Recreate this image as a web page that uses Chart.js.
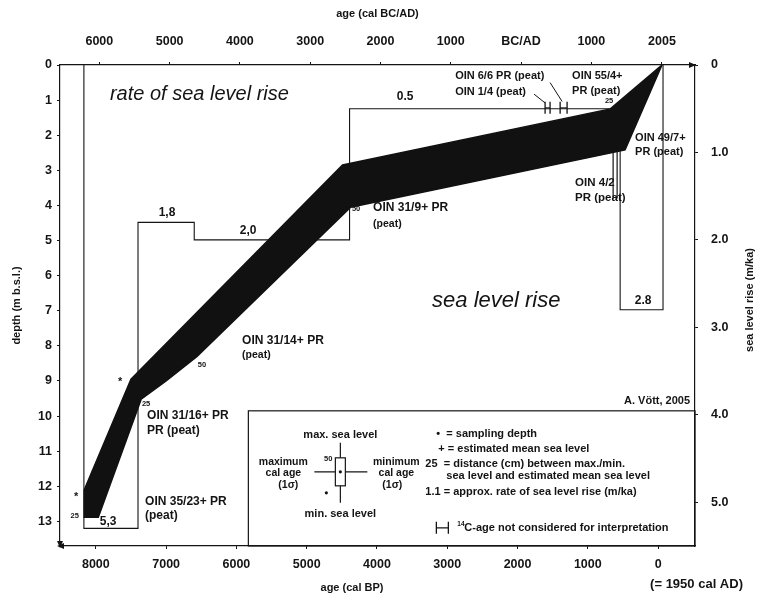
<!DOCTYPE html>
<html><head><meta charset="utf-8">
<script src="https://cdn.jsdelivr.net/npm/chart.js@4/dist/chart.umd.min.js"></script>
<style>html,body{margin:0;padding:0;background:#fff}#wrap{width:760px;height:596px;position:relative}</style>
</head><body><div id="wrap"><canvas id="c" width="760" height="596"></canvas></div>
<script>
// ---------------- data ----------------
// sea level band: upper (shallow) edge and lower (deep) edge, age in cal BP, depth in m b.s.l.
const bandUpperAgeBP = [-55, 680, 4490, 7500, 8165];
const bandUpperDepth = [0, 1.25, 2.85, 8.95, 12.1];
const bandLowerAgeBP = [8165, 7965, 7355, 7000, 6560, 4375, 470, -55];
const bandLowerDepth = [12.88, 12.88, 9.52, 9.0, 8.3, 4.05, 2.42, 0];
// rate of sea level rise (m/ka), stepped between age breaks (cal BP)
const rateBreaksBP = [8170, 7400, 6600, 4390, 540, -70];
const rateValues = [5.3, 1.8, 2.0, 0.5, 2.8];
const rateValueLabels = ['5,3', '1,8', '2,0', '0.5', '2.8'];
// OIN 4/2 depth ranges (two lines)
const oin42AgeBP = [640, 583];
const oin42Depth = [2.42, 3.8];
// 14C ages not considered (OIN 1/4, OIN 6/6): age ranges at depth
const c14AgeFromBP = [1608, 1394];
const c14AgeToBP = [1537, 1295];
const c14Depth = [1.22, 1.22];
// axis ticks
const bpTicks = [8000, 7000, 6000, 5000, 4000, 3000, 2000, 1000, 0];
const bcadTicks = [-6000, -5000, -4000, -3000, -2000, -1000, 0, 1000, 2005];
const bcadTickLabels = ['6000', '5000', '4000', '3000', '2000', '1000', 'BC/AD', '1000', '2005'];
const depthTicks = [0, 1, 2, 3, 4, 5, 6, 7, 8, 9, 10, 11, 12, 13];
const rateTicks = [0, 1, 2, 3, 4, 5];
const rateTickLabels = ['0', '1.0', '2.0', '3.0', '4.0', '5.0'];

// ---------------- scale ranges ----------------
const BP_MIN = -525, BP_MAX = 8510;
const DEPTH_MAX = 13.7;
const RATE_MAX = DEPTH_MAX / 2.49;

const FONT = '"Liberation Sans", Arial, sans-serif';
const INK = '#141414';

// build datasets from arrays
const bandPoly = bandUpperAgeBP.map((a, i) => ({x: a, y: bandUpperDepth[i]}))
  .concat(bandLowerAgeBP.map((a, i) => ({x: a, y: bandLowerDepth[i]})));
bandPoly.push({x: bandUpperAgeBP[0], y: bandUpperDepth[0]});

const ratePts = [{x: rateBreaksBP[0], y: 0}];
rateValues.forEach((r, i) => {
  ratePts.push({x: rateBreaksBP[i], y: r});
  ratePts.push({x: rateBreaksBP[i + 1], y: r});
});
ratePts.push({x: rateBreaksBP[rateBreaksBP.length - 1], y: 0});

const lineDs = (data, extra) => Object.assign({
  type: 'line', data, showLine: true, borderColor: INK, borderWidth: 1.1,
  pointRadius: 0, tension: 0, fill: false, xAxisID: 'x', yAxisID: 'y'
}, extra || {});

const datasets = [
  lineDs(bandPoly, {backgroundColor: '#111', borderColor: '#111', borderWidth: 1.5, fill: 'shape'}),
  lineDs(ratePts, {yAxisID: 'rate'}),
];
oin42AgeBP.forEach(a => datasets.push(lineDs(oin42Depth.map(d => ({x: a, y: d})), {borderWidth: 1.2})));
c14AgeFromBP.forEach((a, i) => {
  const b = c14AgeToBP[i], d = c14Depth[i];
  datasets.push(lineDs([{x: a, y: d}, {x: b, y: d}], {borderWidth: 1}));
  datasets.push(lineDs([{x: a, y: d - 0.17}, {x: a, y: d + 0.17}], {borderWidth: 1.3}));
  datasets.push(lineDs([{x: b, y: d - 0.17}, {x: b, y: d + 0.17}], {borderWidth: 1.3}));
});
// pointer lines from labels OIN 1/4 and OIN 6/6
datasets.push(lineDs([{x: 1765, y: 0.83}, {x: 1608, y: 1.08}], {borderWidth: 1}));
datasets.push(lineDs([{x: 1537, y: 0.5}, {x: 1366, y: 1.04}], {borderWidth: 1}));

// ---------------- text annotations (data coordinates) ----------------
const notes = [
  {t: 'rate of sea level rise', x: 7800, y: 0.85, size: 20, style: 'italic', weight: 'normal'},
  {t: 'sea level rise', x: 3216, y: 6.72, size: 22, style: 'italic', weight: 'normal'},
  {t: 'OIN 31/16+ PR', x: 7271, y: 10.0}, {t: 'PR (peat)', x: 7271, y: 10.42},
  {t: 'OIN 35/23+ PR', x: 7300, y: 12.43}, {t: '(peat)', x: 7300, y: 12.85},
  {t: 'OIN 31/14+ PR', x: 5919, y: 7.85}, {t: '(peat)', x: 5919, y: 8.25, size: 10.5},
  {t: 'OIN 31/9+ PR', x: 4055, y: 4.07}, {t: '(peat)', x: 4055, y: 4.53, size: 10.5},
  {t: 'OIN 6/6 PR (peat)', x: 2888, y: 0.31, size: 11}, {t: 'OIN 1/4 (peat)', x: 2888, y: 0.77, size: 11},
  {t: 'OIN 55/4+', x: 1224, y: 0.31, size: 11}, {t: 'PR (peat)', x: 1224, y: 0.74, size: 11},
  {t: 'OIN 49/7+', x: 327, y: 2.08, size: 11}, {t: 'PR (peat)', x: 327, y: 2.48, size: 11},
  {t: 'OIN 4/2', x: 1181, y: 3.37, size: 11.5}, {t: 'PR (peat)', x: 1181, y: 3.77, size: 11.5},
  {t: 'A. Vött, 2005', x: -455, y: 9.57, size: 11, align: 'right'},
  {t: '25', x: 8300, y: 12.85, size: 7.5, align: 'center'},
  {t: '*', x: 8282, y: 12.3, size: 11, align: 'center'},
  {t: '*', x: 7655, y: 9.03, size: 11, align: 'center'},
  {t: '25', x: 7285, y: 9.65, size: 7.5, align: 'center'},
  {t: '50', x: 6489, y: 8.55, size: 7.5, align: 'center'},
  {t: '50', x: 4297, y: 4.1, size: 7.5, align: 'center'},
  {t: '25', x: 697, y: 1.02, size: 7.5, align: 'center'},
];
// labels of rate segments: placed above each step, mid-segment (rate axis)
const rateNoteAt = [
  {x: 7826, y: 5.22}, {x: 6987, y: 1.69}, {x: 5834, y: 1.89}, {x: 3600, y: 0.36}, {x: 214, y: 2.7}
];

function drawText(ctx, t, px, py, o) {
  ctx.save();
  ctx.font = `${o.style || 'normal'} ${o.weight || 'bold'} ${o.size || 12}px ${FONT}`;
  ctx.fillStyle = INK;
  ctx.textAlign = o.align || 'left';
  ctx.textBaseline = 'middle';
  ctx.fillText(t, px, py);
  ctx.restore();
}

const overlay = {
  id: 'overlay',
  afterDatasetsDraw(chart) {
    const ctx = chart.ctx, xs = chart.scales.x, ys = chart.scales.y, rs = chart.scales.rate;
    const ca = chart.chartArea;
    notes.forEach(n => drawText(ctx, n.t, xs.getPixelForValue(n.x), ys.getPixelForValue(n.y), n));
    rateNoteAt.forEach((p, i) => drawText(ctx, rateValueLabels[i], xs.getPixelForValue(p.x), rs.getPixelForValue(p.y), {size: 12, align: 'center'}));

    // arrowheads on axes
    ctx.save();
    ctx.fillStyle = INK;
    ctx.beginPath();
    ctx.moveTo(ca.right + 1, ca.top); ctx.lineTo(ca.right - 6, ca.top - 3); ctx.lineTo(ca.right - 6, ca.top + 3); ctx.closePath(); ctx.fill();
    ctx.beginPath();
    ctx.moveTo(ca.left - 3, ca.bottom); ctx.lineTo(ca.left + 4, ca.bottom - 3); ctx.lineTo(ca.left + 4, ca.bottom + 3); ctx.closePath(); ctx.fill();
    ctx.beginPath();
    ctx.moveTo(ca.left, ca.bottom + 2); ctx.lineTo(ca.left - 3, ca.bottom - 5); ctx.lineTo(ca.left + 3, ca.bottom - 5); ctx.closePath(); ctx.fill();
    ctx.restore();

    // legend box
    const L = xs.getPixelForValue(5830), T = ys.getPixelForValue(9.85);
    ctx.save();
    ctx.strokeStyle = INK; ctx.lineWidth = 1.2;
    ctx.strokeRect(L, T, ca.right - L, ca.bottom - T);
    const cx = L + 92;
    ctx.lineWidth = 1.2;
    ctx.beginPath();
    ctx.moveTo(cx, T + 32); ctx.lineTo(cx, T + 47);
    ctx.moveTo(cx, T + 75); ctx.lineTo(cx, T + 92);
    ctx.moveTo(L + 66, T + 61); ctx.lineTo(cx - 5, T + 61);
    ctx.moveTo(cx + 5, T + 61); ctx.lineTo(L + 119, T + 61);
    ctx.stroke();
    ctx.strokeRect(cx - 5, T + 47, 10, 28);
    ctx.fillStyle = INK;
    ctx.beginPath(); ctx.arc(cx, T + 61, 1.6, 0, Math.PI * 2); ctx.fill();
    ctx.beginPath(); ctx.arc(cx - 14, T + 82, 1.6, 0, Math.PI * 2); ctx.fill();
    ctx.restore();
    const lt = (t, dx, dy, o) => drawText(ctx, t, L + dx, T + dy, Object.assign({size: 11}, o || {}));
    lt('max. sea level', 92, 24, {align: 'center'});
    lt('min. sea level', 92, 103, {align: 'center'});
    lt('50', 84, 48, {align: 'right', size: 7.5});
    lt('maximum', 35, 51, {align: 'center', size: 10.5});
    lt('cal age', 35, 62, {align: 'center', size: 10.5});
    lt('(1σ)', 40, 74, {align: 'center', size: 10.5});
    lt('minimum', 148, 51, {align: 'center', size: 10.5});
    lt('cal age', 148, 62, {align: 'center', size: 10.5});
    lt('(1σ)', 144, 74, {align: 'center', size: 10.5});
    lt('•  = sampling depth', 188, 23);
    lt('+ = estimated mean sea level', 190, 38);
    lt('25  = distance (cm) between max./min.', 177, 53);
    lt('sea level and estimated mean sea level', 198, 65);
    lt('1.1 = approx. rate of sea level rise (m/ka)', 177, 81);
    // 14C symbol
    ctx.save();
    ctx.strokeStyle = INK; ctx.lineWidth = 1.3;
    ctx.beginPath();
    const sy = T + 117;
    ctx.moveTo(L + 188, sy - 6); ctx.lineTo(L + 188, sy + 6);
    ctx.moveTo(L + 200, sy - 6); ctx.lineTo(L + 200, sy + 6);
    ctx.moveTo(L + 188, sy); ctx.lineTo(L + 200, sy);
    ctx.stroke();
    ctx.restore();
    lt('14', 209, 113, {size: 6.5});
    lt('C-age not considered for interpretation', 216, 117);

    // extra axis texts
    drawText(ctx, '(= 1950 cal AD)', xs.getPixelForValue(0) - 8, 584, {size: 13, weight: 'bold'});
    drawText(ctx, 'age (cal BP)', 352, 588, {size: 11, align: 'center'});
    ctx.save();
    ctx.translate(750, 300);
    ctx.rotate(-Math.PI / 2);
    drawText(ctx, 'sea level rise (m/ka)', 0, 0, {size: 11, align: 'center'});
    ctx.restore();
  }
};

const tickFont = {family: FONT, size: 12.5, weight: 'bold'};
const titleFont = {family: FONT, size: 11, weight: 'bold'};
const axisBase = {
  grid: {drawOnChartArea: false, drawTicks: true, tickLength: 3, color: INK, lineWidth: 1},
  border: {display: true, color: INK, width: 1.2},
};

new Chart(document.getElementById('c'), {
  type: 'scatter',
  data: {datasets},
  plugins: [overlay],
  options: {
    responsive: false, animation: false, devicePixelRatio: 1,
    layout: {padding: 0},
    plugins: {legend: {display: false}, tooltip: {enabled: false}},
    scales: {
      x: Object.assign({}, axisBase, {
        type: 'linear', position: 'bottom', reverse: true, min: BP_MIN, max: BP_MAX,
        afterBuildTicks: s => { s.ticks = bpTicks.map(v => ({value: v})); },
        afterFit: s => { s.height = 50; },
        ticks: {font: tickFont, color: INK, padding: 8, maxRotation: 0, autoSkip: false,
          callback: v => String(v)},
        title: {display: false}
      }),
      top: Object.assign({}, axisBase, {
        type: 'linear', position: 'top', min: 1950 - BP_MAX, max: 1950 - BP_MIN,
        afterBuildTicks: s => { s.ticks = bcadTicks.map(v => ({value: v})); },
        afterFit: s => { s.height = 65; },
        ticks: {font: tickFont, color: INK, padding: 13, maxRotation: 0, autoSkip: false,
          callback: (v) => { const i = bcadTicks.indexOf(v); return i >= 0 ? bcadTickLabels[i] : ''; }},
        title: {display: true, text: 'age (cal BC/AD)', font: titleFont, color: INK, padding: {top: 7, bottom: 0}}
      }),
      y: Object.assign({}, axisBase, {
        type: 'linear', position: 'left', reverse: true, min: 0, max: DEPTH_MAX,
        afterBuildTicks: s => { s.ticks = depthTicks.map(v => ({value: v})); },
        afterFit: s => { s.width = 60; },
        ticks: {font: tickFont, color: INK, padding: 5, autoSkip: false, callback: v => String(v)},
        title: {display: true, text: 'depth (m b.s.l.)', font: titleFont, color: INK, padding: {top: 10, bottom: 0}}
      }),
      rate: Object.assign({}, axisBase, {
        type: 'linear', position: 'right', reverse: true, min: 0, max: RATE_MAX,
        afterBuildTicks: s => { s.ticks = rateTicks.map(v => ({value: v})); },
        afterFit: s => { s.width = 65; },
        ticks: {font: tickFont, color: INK, padding: 13, autoSkip: false,
          callback: (v) => { const i = rateTicks.indexOf(v); return i >= 0 ? rateTickLabels[i] : ''; }},
        title: {display: false}
      })
    }
  }
});
</script>
</body></html>
